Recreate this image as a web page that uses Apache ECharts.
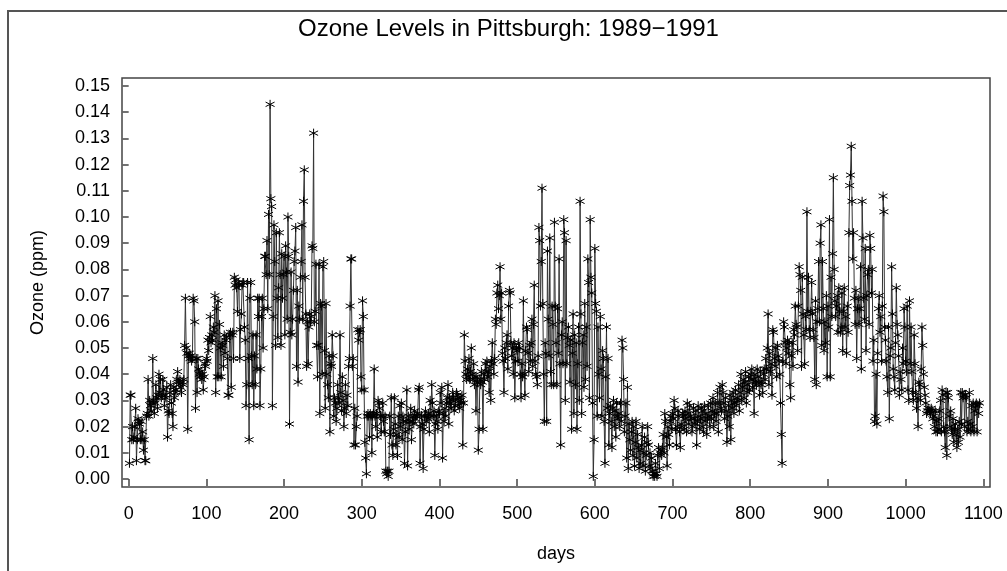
<!DOCTYPE html>
<html>
<head>
<meta charset="utf-8">
<title>Ozone Levels in Pittsburgh</title>
<script src="https://cdn.jsdelivr.net/npm/echarts@6/dist/echarts.min.js"></script>
<style>
  html, body { margin: 0; padding: 0; background: #fff; }
  #chart { width: 1007px; height: 571px; }
</style>
</head>
<body>
<div id="chart"></div>
<script>
// Daily ozone readings (ppm), one value per day, 1989 = days 1-365
const ozone1989 = [
  0.006, 0.032, 0.032, 0.015, 0.020, 0.015, 0.016, 0.020, 0.027, 0.007,
  0.015, 0.023, 0.022, 0.021, 0.015, 0.022, 0.015, 0.018, 0.011, 0.015,
  0.007, 0.007, 0.024, 0.025, 0.038, 0.024, 0.030, 0.028, 0.026, 0.029,
  0.046, 0.030, 0.025, 0.029, 0.036, 0.031, 0.027, 0.032, 0.040, 0.033,
  0.038, 0.031, 0.032, 0.038, 0.034, 0.028, 0.032, 0.031, 0.035, 0.016,
  0.026, 0.025, 0.033, 0.036, 0.029, 0.025, 0.020, 0.035, 0.031, 0.034,
  0.033, 0.038, 0.041, 0.037, 0.036, 0.038, 0.035, 0.033, 0.037, 0.036,
  0.038, 0.051, 0.069, 0.050, 0.048, 0.019, 0.047, 0.048, 0.046, 0.047,
  0.045, 0.046, 0.069, 0.068, 0.060, 0.027, 0.046, 0.033, 0.046, 0.042,
  0.040, 0.039, 0.041, 0.038, 0.040, 0.034, 0.039, 0.044, 0.043, 0.046,
  0.045, 0.053, 0.049, 0.054, 0.062, 0.052, 0.055, 0.053, 0.058, 0.056,
  0.070, 0.033, 0.065, 0.039, 0.068, 0.039, 0.059, 0.050, 0.039, 0.052,
  0.051, 0.043, 0.055, 0.048, 0.053, 0.054, 0.046, 0.032, 0.032, 0.055,
  0.056, 0.035, 0.055, 0.056, 0.046, 0.077, 0.074, 0.076, 0.073, 0.064,
  0.075, 0.074, 0.046, 0.057, 0.063, 0.074, 0.075, 0.075, 0.058, 0.053,
  0.028, 0.036, 0.075, 0.046, 0.015, 0.069, 0.075, 0.047, 0.036, 0.055,
  0.028, 0.047, 0.036, 0.055, 0.042, 0.069, 0.062, 0.069, 0.028, 0.042,
  0.062, 0.069, 0.050, 0.065, 0.085, 0.085, 0.078, 0.091, 0.065, 0.101,
  0.078, 0.143, 0.107, 0.104, 0.028, 0.062, 0.097, 0.083, 0.051, 0.094,
  0.069, 0.054, 0.073, 0.094, 0.078, 0.051, 0.086, 0.069, 0.078, 0.085,
  0.055, 0.089, 0.079, 0.061, 0.100, 0.085, 0.021, 0.056, 0.079, 0.055,
  0.061, 0.072, 0.083, 0.087, 0.096, 0.043, 0.072, 0.037, 0.066, 0.061,
  0.077, 0.083, 0.097, 0.061, 0.106, 0.118, 0.077, 0.063, 0.043, 0.060,
  0.044, 0.058, 0.063, 0.060, 0.062, 0.089, 0.088, 0.132, 0.060, 0.064,
  0.082, 0.051, 0.039, 0.051, 0.082, 0.025, 0.067, 0.066, 0.040, 0.081,
  0.083, 0.049, 0.027, 0.067, 0.040, 0.036, 0.031, 0.047, 0.018, 0.044,
  0.043, 0.055, 0.047, 0.024, 0.031, 0.029, 0.022, 0.027, 0.036, 0.031,
  0.029, 0.055, 0.033, 0.026, 0.039, 0.030, 0.020, 0.027, 0.036, 0.025,
  0.032, 0.028, 0.043, 0.046, 0.066, 0.084, 0.084, 0.043, 0.046, 0.013,
  0.027, 0.013, 0.020, 0.024, 0.057, 0.053, 0.056, 0.057, 0.039, 0.034,
  0.068, 0.062, 0.034, 0.014, 0.008, 0.002, 0.024, 0.025, 0.024, 0.016,
  0.025, 0.024, 0.010, 0.024, 0.025, 0.042, 0.024, 0.020, 0.025, 0.016,
  0.030, 0.029, 0.027, 0.024, 0.018, 0.024, 0.029, 0.022, 0.018, 0.024,
  0.003, 0.002, 0.003, 0.001, 0.003, 0.024, 0.017, 0.031, 0.013, 0.009,
  0.019, 0.031, 0.021, 0.013, 0.017, 0.009, 0.024, 0.016, 0.028, 0.020,
  0.029, 0.015, 0.024, 0.022, 0.006, 0.018, 0.022, 0.034, 0.005, 0.024,
  0.019, 0.022, 0.027, 0.015, 0.022
];

// 1990 = days 366-730
const ozone1990 = [
  0.024, 0.021, 0.026, 0.023, 0.024,
  0.024, 0.025, 0.034, 0.035, 0.006, 0.020, 0.024, 0.021, 0.004, 0.019,
  0.024, 0.026, 0.022, 0.024, 0.023, 0.025, 0.018, 0.030, 0.024, 0.036,
  0.029, 0.024, 0.026, 0.009, 0.021, 0.024, 0.022, 0.019, 0.026, 0.025,
  0.033, 0.029, 0.035, 0.008, 0.025, 0.022, 0.027, 0.024, 0.029, 0.031,
  0.036, 0.021, 0.031, 0.029, 0.027, 0.030, 0.033, 0.031, 0.026, 0.028,
  0.030, 0.033, 0.032, 0.028, 0.031, 0.027, 0.030, 0.029, 0.032, 0.013,
  0.029, 0.055, 0.045, 0.040, 0.038, 0.042, 0.039, 0.046, 0.038, 0.041,
  0.050, 0.040, 0.038, 0.044, 0.036, 0.039, 0.026, 0.039, 0.037, 0.011,
  0.019, 0.038, 0.036, 0.041, 0.037, 0.019, 0.040, 0.038, 0.044, 0.041,
  0.045, 0.039, 0.041, 0.033, 0.043, 0.030, 0.045, 0.052, 0.044, 0.040,
  0.046, 0.061, 0.059, 0.071, 0.074, 0.065, 0.070, 0.081, 0.061, 0.071,
  0.048, 0.045, 0.033, 0.050, 0.046, 0.052, 0.055, 0.042, 0.066, 0.072,
  0.071, 0.052, 0.047, 0.050, 0.040, 0.052, 0.031, 0.045, 0.050, 0.049,
  0.045, 0.052, 0.050, 0.040, 0.031, 0.044, 0.039, 0.068, 0.040, 0.032,
  0.049, 0.058, 0.057, 0.048, 0.041, 0.051, 0.045, 0.052, 0.061, 0.043,
  0.059, 0.074, 0.045, 0.040, 0.039, 0.036, 0.047, 0.096, 0.091, 0.066,
  0.083, 0.111, 0.067, 0.040, 0.022, 0.052, 0.048, 0.022, 0.087, 0.061,
  0.047, 0.092, 0.041, 0.036, 0.066, 0.059, 0.036, 0.098, 0.066, 0.052,
  0.036, 0.065, 0.048, 0.084, 0.044, 0.013, 0.055, 0.060, 0.044, 0.099,
  0.094, 0.030, 0.091, 0.044, 0.054, 0.058, 0.051, 0.037, 0.053, 0.019,
  0.048, 0.063, 0.025, 0.055, 0.036, 0.052, 0.019, 0.044, 0.058, 0.030,
  0.106, 0.063, 0.025, 0.052, 0.055, 0.035, 0.067, 0.038, 0.058, 0.043,
  0.084, 0.075, 0.031, 0.099, 0.077, 0.071, 0.029, 0.001, 0.015, 0.088,
  0.067, 0.064, 0.024, 0.058, 0.040, 0.031, 0.062, 0.042, 0.024, 0.049,
  0.046, 0.022, 0.006, 0.039, 0.058, 0.027, 0.046, 0.013, 0.025, 0.028,
  0.022, 0.012, 0.027, 0.030, 0.020, 0.026, 0.016, 0.029, 0.024, 0.023,
  0.025, 0.020, 0.029, 0.022, 0.053, 0.050, 0.038, 0.018, 0.024, 0.029,
  0.008, 0.035, 0.004, 0.021, 0.015, 0.011, 0.018, 0.022, 0.009, 0.020,
  0.005, 0.014, 0.022, 0.008, 0.017, 0.012, 0.004, 0.011, 0.006, 0.013,
  0.020, 0.005, 0.010, 0.016, 0.003, 0.009, 0.014, 0.020, 0.013, 0.005,
  0.010, 0.004, 0.008, 0.003, 0.001, 0.002, 0.001, 0.006, 0.002, 0.001,
  0.009, 0.012, 0.004, 0.010, 0.011, 0.009, 0.012, 0.017, 0.010, 0.025,
  0.022, 0.016, 0.005, 0.020, 0.017, 0.013, 0.022, 0.024, 0.019, 0.025,
  0.023, 0.030, 0.027, 0.019, 0.013, 0.020, 0.026, 0.024, 0.018, 0.012,
  0.021, 0.020, 0.025, 0.024, 0.019, 0.026, 0.023, 0.018, 0.029, 0.025,
  0.021, 0.028, 0.024, 0.023, 0.018, 0.020, 0.027, 0.023, 0.021, 0.026
];

// 1991 = days 731-1095
const ozone1991 = [
  0.013, 0.022, 0.028, 0.024, 0.019, 0.023, 0.027, 0.020, 0.026, 0.018,
  0.028, 0.022, 0.025, 0.017, 0.023, 0.028, 0.024, 0.020, 0.029, 0.023,
  0.026, 0.031, 0.020, 0.025, 0.029, 0.022, 0.025, 0.033, 0.018, 0.029,
  0.035, 0.027, 0.026, 0.036, 0.033, 0.029, 0.023, 0.031, 0.026, 0.014,
  0.024, 0.028, 0.020, 0.032, 0.015, 0.030, 0.027, 0.033, 0.025, 0.029,
  0.034, 0.028, 0.031, 0.030, 0.036, 0.026, 0.033, 0.040, 0.030, 0.035,
  0.038, 0.031, 0.037, 0.041, 0.029, 0.036, 0.033, 0.039, 0.034, 0.040,
  0.038, 0.042, 0.035, 0.038, 0.025, 0.040, 0.037, 0.036, 0.042, 0.039,
  0.037, 0.032, 0.041, 0.036, 0.037, 0.033, 0.040, 0.042, 0.038, 0.046,
  0.042, 0.050, 0.063, 0.036, 0.048, 0.041, 0.044, 0.032, 0.057, 0.056,
  0.046, 0.043, 0.050, 0.039, 0.051, 0.047, 0.045, 0.040, 0.029, 0.017,
  0.006, 0.045, 0.060, 0.058, 0.052, 0.044, 0.050, 0.053, 0.048, 0.052,
  0.036, 0.031, 0.047, 0.052, 0.043, 0.057, 0.055, 0.066, 0.059, 0.058,
  0.049, 0.066, 0.081, 0.078, 0.072, 0.043, 0.077, 0.063, 0.055, 0.044,
  0.062, 0.057, 0.102, 0.064, 0.077, 0.057, 0.054, 0.064, 0.075, 0.063,
  0.057, 0.054, 0.038, 0.068, 0.036, 0.060, 0.065, 0.083, 0.060, 0.090,
  0.097, 0.051, 0.083, 0.065, 0.049, 0.060, 0.052, 0.070, 0.039, 0.066,
  0.058, 0.099, 0.039, 0.077, 0.062, 0.086, 0.115, 0.080, 0.068, 0.062,
  0.066, 0.070, 0.056, 0.073, 0.064, 0.056, 0.058, 0.071, 0.049, 0.064,
  0.073, 0.058, 0.062, 0.048, 0.066, 0.056, 0.094, 0.112, 0.116, 0.127,
  0.106, 0.084, 0.094, 0.069, 0.059, 0.072, 0.046, 0.065, 0.069, 0.059,
  0.065, 0.081, 0.042, 0.106, 0.092, 0.069, 0.061, 0.088, 0.049, 0.070,
  0.078, 0.080, 0.059, 0.093, 0.088, 0.071, 0.080, 0.045, 0.053, 0.022,
  0.024, 0.040, 0.021, 0.048, 0.065, 0.070, 0.056, 0.062, 0.045, 0.066,
  0.108, 0.102, 0.058, 0.053, 0.045, 0.039, 0.033, 0.058, 0.023, 0.047,
  0.050, 0.081, 0.063, 0.042, 0.039, 0.034, 0.052, 0.073, 0.059, 0.055,
  0.047, 0.032, 0.041, 0.038, 0.034, 0.050, 0.044, 0.065, 0.058, 0.045,
  0.041, 0.066, 0.034, 0.030, 0.068, 0.044, 0.058, 0.041, 0.033, 0.030,
  0.055, 0.044, 0.033, 0.027, 0.031, 0.020, 0.037, 0.036, 0.030, 0.042,
  0.058, 0.051, 0.040, 0.035, 0.032, 0.029, 0.025, 0.026, 0.027, 0.026,
  0.026, 0.025, 0.027, 0.026, 0.023, 0.024, 0.020, 0.026, 0.018, 0.022,
  0.018, 0.023, 0.019, 0.026, 0.030, 0.018, 0.034, 0.032, 0.020, 0.018,
  0.012, 0.033, 0.009, 0.033, 0.031, 0.024, 0.020, 0.026, 0.019, 0.017,
  0.023, 0.014, 0.019, 0.021, 0.017, 0.012, 0.019, 0.014, 0.022, 0.016,
  0.033, 0.021, 0.033, 0.031, 0.032, 0.020, 0.032, 0.031, 0.018, 0.022,
  0.019, 0.033, 0.021, 0.018, 0.028, 0.020, 0.029, 0.018, 0.026, 0.028,
  0.029, 0.018, 0.028, 0.025, 0.029
];

// Axis tick positions
const dayTicks = [0, 100, 200, 300, 400, 500, 600, 700, 800, 900, 1000, 1100];
const ozoneTicks = [0.00, 0.01, 0.02, 0.03, 0.04, 0.05, 0.06, 0.07, 0.08,
                    0.09, 0.10, 0.11, 0.12, 0.13, 0.14, 0.15];

const titleText = 'Ozone Levels in Pittsburgh: 1989\u22121991';
const xName = 'days';
const yName = 'Ozone (ppm)';

// Day number -> reading pairs
const readings = ozone1989.concat(ozone1990, ozone1991);
const points = readings.map((v, i) => [i + 1, v]);

const FONT = 'Liberation Sans, Arial, sans-serif';

// Six-armed asterisk used as the plot marker
const asterisk = 'path://M5,0L5,10M0.67,2.5L9.33,7.5M0.67,7.5L9.33,2.5';

const chart = echarts.init(document.getElementById('chart'), null, { renderer: 'canvas' });

chart.setOption({
  animation: false,
  backgroundColor: '#ffffff',
  textStyle: { fontFamily: FONT, color: '#000' },
  title: {
    text: titleText,
    left: 298,
    top: 17,
    padding: 0,
    textStyle: { fontFamily: FONT, fontSize: 24, fontWeight: 'normal', color: '#000' }
  },
  graphic: [{
    type: 'rect',
    silent: true,
    z: -10,
    shape: { x: 8, y: 11, width: 1100, height: 700 },
    style: { fill: 'none', stroke: '#555', lineWidth: 2 }
  }],
  grid: {
    left: 122, top: 78, width: 868, height: 409,
    show: true, borderColor: '#444', borderWidth: 1.5,
    backgroundColor: 'transparent'
  },
  xAxis: {
    type: 'value',
    min: -8.6,
    max: 1108.6,
    name: xName,
    nameLocation: 'middle',
    nameGap: 58,
    nameTextStyle: { fontFamily: FONT, fontSize: 18, color: '#000' },
    axisLine: { show: false },
    splitLine: { show: false },
    axisTick: { show: true, customValues: dayTicks, length: 7, lineStyle: { color: '#444', width: 1.5 } },
    axisLabel: {
      customValues: dayTicks,
      fontFamily: FONT, fontSize: 18, color: '#000', margin: 18,
      formatter: v => String(Math.round(v))
    }
  },
  yAxis: {
    type: 'value',
    min: -0.00305,
    max: 0.15305,
    name: yName,
    nameLocation: 'middle',
    nameGap: 75,
    nameTextStyle: { fontFamily: FONT, fontSize: 18, color: '#000' },
    axisLine: { show: false },
    splitLine: { show: false },
    axisTick: { show: true, customValues: ozoneTicks, length: 6, lineStyle: { color: '#444', width: 1.5 } },
    axisLabel: {
      customValues: ozoneTicks,
      fontFamily: FONT, fontSize: 18, color: '#000', margin: 12,
      formatter: v => v.toFixed(2)
    }
  },
  series: [{
    type: 'line',
    data: points,
    symbol: asterisk,
    symbolSize: [9, 9],
    showSymbol: true,
    showAllSymbol: true,
    clip: true,
    lineStyle: { color: '#333', width: 1 },
    itemStyle: { color: '#000', borderColor: '#000', borderWidth: 1 },
    emphasis: { disabled: true }
  }]
});
</script>
</body>
</html>
